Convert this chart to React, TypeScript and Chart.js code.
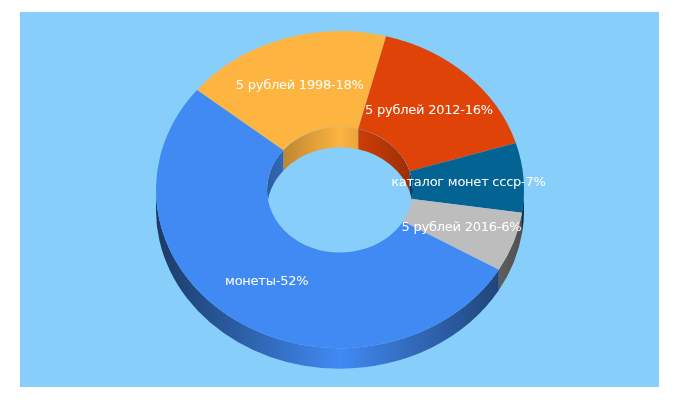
import React, { useEffect, useRef } from 'react';
import { Chart, registerables } from 'chart.js';

Chart.register(...registerables);

// order follows the picture, clockwise from the blue/orange edge
const categories = ['5 рублей 1998', '5 рублей 2012', 'каталог монет ссср', '5 рублей 2016', 'монеты'];
const shares = [18.2, 16.2, 7.1, 6.1, 52.4];
const sliceColors = ['#FDB441', '#E04308', '#036494', '#BDBDBD', '#418AF3'];

const OUTER_R = 184;
const INNER_R = 73;
const TILT = 158.5 / 184;
const TOP_CY = 189.7;
const DEPTH = 20.5;
const TWO_PI = Math.PI * 2;

function shade(hex: string, f: number) {
  const n = parseInt(hex.slice(1), 16);
  const r = Math.round(((n >> 16) & 255) * f);
  const g = Math.round(((n >> 8) & 255) * f);
  const b = Math.round((n & 255) * f);
  return `rgb(${r},${g},${b})`;
}

// side wall between two angles, on the ellipse of the given radius
function wall(ctx: CanvasRenderingContext2D, cx: number, r: number, a: number, b: number, fill: CanvasGradient) {
  ctx.beginPath();
  ctx.ellipse(cx, TOP_CY, r, r * TILT, 0, a, b);
  ctx.ellipse(cx, TOP_CY + DEPTH, r, r * TILT, 0, b, a, true);
  ctx.closePath();
  ctx.fillStyle = fill;
  ctx.fill();
}

function wallGradient(ctx: CanvasRenderingContext2D, cx: number, r: number, color: string, edge: number) {
  const g = ctx.createLinearGradient(cx - r, 0, cx + r, 0);
  g.addColorStop(0, shade(color, edge));
  g.addColorStop(0.5, shade(color, 1));
  g.addColorStop(1, shade(color, edge));
  return g;
}

const donut3d = {
  id: 'donut3d',
  beforeDatasetsDraw(chart: any) {
    const ctx = chart.ctx;
    const arcs = chart.getDatasetMeta(0).data;
    const cx = arcs[0].x;
    const cy = arcs[0].y;

    // inner walls: only the back half shows, and only through the hole
    ctx.save();
    ctx.beginPath();
    ctx.ellipse(cx, TOP_CY, INNER_R, INNER_R * TILT, 0, 0, TWO_PI);
    ctx.clip();
    arcs.forEach((arc: any, i: number) => {
      const start = ((arc.startAngle % TWO_PI) + TWO_PI) % TWO_PI;
      const end = start + (arc.endAngle - arc.startAngle);
      const fill = wallGradient(ctx, cx, INNER_R, sliceColors[i], 0.68);
      [[Math.PI, TWO_PI], [Math.PI * 3, Math.PI * 4]].forEach(([lo, hi]) => {
        const a = Math.max(start, lo);
        const b = Math.min(end, hi);
        if (b > a) wall(ctx, cx, INNER_R, a, b, fill);
      });
    });
    ctx.restore();

    // outer walls: only the front half
    arcs.forEach((arc: any, i: number) => {
      const start = ((arc.startAngle % TWO_PI) + TWO_PI) % TWO_PI;
      const end = start + (arc.endAngle - arc.startAngle);
      const fill = wallGradient(ctx, cx, OUTER_R, sliceColors[i], 0.42);
      [[0, Math.PI], [TWO_PI, Math.PI * 3]].forEach(([lo, hi]) => {
        const a = Math.max(start, lo);
        const b = Math.min(end, hi);
        if (b > a) wall(ctx, cx, OUTER_R, a, b, fill);
      });
    });

    // squash the flat doughnut the library draws next
    ctx.save();
    ctx.translate(cx, TOP_CY);
    ctx.scale(1, TILT);
    ctx.translate(-cx, -cy);
  },
  afterDatasetsDraw(chart: any) {
    const ctx = chart.ctx;
    ctx.restore();

    const arcs = chart.getDatasetMeta(0).data;
    ctx.save();
    ctx.font = '13px "DejaVu Sans"';
    ctx.letterSpacing = '-0.24px';
    ctx.fillStyle = '#ffffff';
    ctx.textAlign = 'center';
    ctx.textBaseline = 'middle';
    arcs.forEach((arc: any, i: number) => {
      const mid = (arc.startAngle + arc.endAngle) / 2;
      const x = arc.x + Math.cos(mid) * OUTER_R * 0.7;
      const y = TOP_CY + Math.sin(mid) * OUTER_R * TILT * 0.7 + 1;
      ctx.fillText(`${categories[i]}-${Math.round(shares[i])}%`, x, y);
    });
    ctx.restore();
  },
};

export default function App() {
  const chartRef = useRef<HTMLCanvasElement>(null);

  useEffect(() => {
    if (!chartRef.current) return;
    const chart = new Chart(chartRef.current, {
      type: 'doughnut',
      data: {
        labels: categories,
        datasets: [
          {
            data: shares,
            backgroundColor: sliceColors,
            borderWidth: 0,
          },
        ],
      },
      options: {
        animation: false,
        responsive: false,
        rotation: 309,
        radius: OUTER_R,
        // percent of the outer radius; a plain number is taken against the full canvas size
        cutout: `${(INNER_R / OUTER_R) * 100}%`,
        layout: { padding: { left: 20, right: 20 } },
        plugins: { legend: { display: false }, tooltip: { enabled: false } },
      },
      plugins: [donut3d],
    } as any);
    return () => chart.destroy();
  }, []);

  return (
    <div style={{ position: 'absolute', left: 0, top: 0, width: 680, height: 400, background: '#fff' }}>
      <div style={{ position: 'absolute', left: 20, top: 12, width: 639, height: 375, background: '#87CEFA' }} />
      <canvas ref={chartRef} width={680} height={400} style={{ position: 'absolute', left: 0, top: 0 }} />
    </div>
  );
}
